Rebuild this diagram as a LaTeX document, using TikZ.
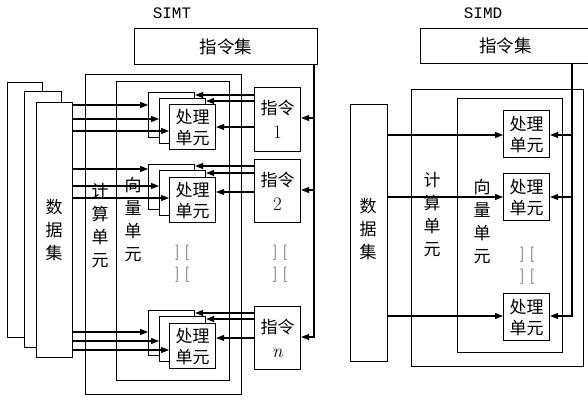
\documentclass[tikz,border=0pt]{standalone}
\usepackage{fontspec}
\newfontfamily\cjk{Noto Sans CJK SC}
\newfontfamily\lblfont{Liberation Mono}
\usetikzlibrary{arrows.meta}
\begin{document}
\begin{tikzpicture}[x=1pt,y=-1pt,
  ln/.style={line width=1.1pt},
  box/.style={draw, ln, inner sep=0pt, anchor=north west},
  wbox/.style={box, fill=white},
  petext/.style={font=\cjk\fontsize{17}{21}\selectfont, align=center},
  pe/.style={wbox, petext, minimum width=46pt, minimum height=45pt},
  insbox/.style={wbox, minimum width=46pt, minimum height=64pt, font=\fontsize{19}{24}\selectfont, align=center},
  vtext/.style={font=\cjk\fontsize{17}{23}\selectfont, align=center, inner sep=0pt},
  dots/.style={font=\fontsize{15}{15}\selectfont, inner sep=0pt},
  lbl/.style={font=\lblfont\fontsize{16}{16}\selectfont, inner sep=0pt},
  arr/.style={ln, -{Triangle[length=8pt,width=6pt]}}
]
\useasboundingbox (0,0) rectangle (588,400);

% ================= SIMT =================
\node[lbl] (simt) at (172,13) {SIMT};
\node[wbox, minimum width=183pt, minimum height=36pt, font=\cjk\fontsize{17.5}{20}\selectfont] (iset) at (134,28) {指令集};

% data set stack
\node[wbox, minimum width=35pt, minimum height=255pt] (dsa) at (7,82) {};
\node[wbox, minimum width=37pt, minimum height=256pt] (dsb) at (24,91) {};
\node[wbox, minimum width=36pt, minimum height=255pt] (dsf) at (36,102) {};
\node[vtext] (dstxt) at (54,230) {数\\据\\集};

% compute unit and vector unit
\node[box, minimum width=156pt, minimum height=320pt] (cu) at (85,74) {};
\node[box, minimum width=113pt, minimum height=299pt] (vu) at (116,81) {};
\node[vtext] (cutxt) at (100,226) {计\\算\\单\\元};
\node[vtext] (vutxt) at (133,219) {向\\量\\单\\元};

% PE stacks
\node[pe] (p1a) at (148,92) {};
\node[pe] (p1b) at (159,98) {};
\node[pe] (p1c) at (169,104) {处理\\单元};
\node[pe] (p2a) at (148,164) {};
\node[pe] (p2b) at (159,170) {};
\node[pe] (p2c) at (169,177) {处理\\单元};
\node[pe] (p3a) at (148,310) {};
\node[pe] (p3b) at (159,316) {};
\node[pe] (p3c) at (169,323) {处理\\单元};

% instruction boxes
\node[insbox] (ins1) at (254,87) {{\cjk\fontsize{17}{24}\selectfont 指令}\\1};
\node[insbox, minimum height=63pt] (ins2) at (254,159) {{\cjk\fontsize{17}{24}\selectfont 指令}\\2};
\node[insbox, minimum height=63pt] (insn) at (254,306) {{\cjk\fontsize{17}{24}\selectfont 指令}\\\textit{n}};

% ellipsis marks
\node[dots] (e1) at (182,253) {]\hspace{6pt}[};
\node[dots] (e2) at (182,275) {]\hspace{6pt}[};
\node[dots] (e3) at (280,253) {]\hspace{6pt}[};
\node[dots] (e4) at (280,275) {]\hspace{6pt}[};

% data arrows
\draw[arr] (dsf.east |- 0,105) -- (p1a.west |- 0,105);
\draw[arr] (dsf.east |- 0,119) -- (p1b.west |- 0,119);
\draw[arr] (dsf.east |- 0,131) -- (p1c.west |- 0,131);
\draw[arr] (dsf.east |- 0,169) -- (p2a.west |- 0,169);
\draw[arr] (dsf.east |- 0,186) -- (p2b.west |- 0,186);
\draw[arr] (dsf.east |- 0,198) -- (p2c.west |- 0,198);
\draw[arr] (dsf.east |- 0,332) -- (p3a.west |- 0,332);
\draw[arr] (dsf.east |- 0,341) -- (p3b.west |- 0,341);
\draw[arr] (dsf.east |- 0,350) -- (p3c.west |- 0,350);

% instruction arrows
\draw[arr] (ins1.west |- 0,95) -- (p1a.east |- 0,95);
\draw[arr] (ins1.west |- 0,101) -- (p1b.east |- 0,101);
\draw[arr] (ins1.west |- 0,127) -- (p1c.east |- 0,127);
\draw[arr] (ins2.west |- 0,166) -- (p2a.east |- 0,166);
\draw[arr] (ins2.west |- 0,173) -- (p2b.east |- 0,173);
\draw[arr] (ins2.west |- 0,192) -- (p2c.east |- 0,192);
\draw[arr] (insn.west |- 0,313) -- (p3a.east |- 0,313);
\draw[arr] (insn.west |- 0,319) -- (p3b.east |- 0,319);
\draw[arr] (insn.west |- 0,338) -- (p3c.east |- 0,338);

% instruction set bus
\draw[arr] (iset.south -| 314,0) |- (insn.east |- 0,337);
\draw[arr] (314,118) -- (ins1.east |- 0,118);
\draw[arr] (314,190) -- (ins2.east |- 0,190);

% ================= SIMD =================
\node[lbl] (simd) at (483,13) {SIMD};
\node[wbox, minimum width=170pt, minimum height=35pt, font=\cjk\fontsize{17.5}{20}\selectfont] (iset2) at (420,28) {指令集};

\node[box, minimum width=172pt, minimum height=277pt] (cu2) at (411,89) {};
\node[box, minimum width=105pt, minimum height=254pt] (vu2) at (457,98) {};
\node[wbox, minimum width=37pt, minimum height=257pt] (ds2) at (350,104) {};
\node[vtext] (ds2txt) at (368,229) {数\\据\\集};
\node[vtext] (cu2txt) at (432,215) {计\\算\\单\\元};
\node[vtext] (vu2txt) at (482,221) {向\\量\\单\\元};

\node[pe, minimum height=47pt] (q1) at (503,110) {处理\\单元};
\node[pe, minimum height=47pt] (q2) at (503,173) {处理\\单元};
\node[pe, minimum height=47pt] (q3) at (503,293) {处理\\单元};

\node[dots] (e5) at (527,255) {]\hspace{6pt}[};
\node[dots] (e6) at (527,277) {]\hspace{6pt}[};

\draw[arr] (ds2.east |- 0,135) -- (q1.west |- 0,135);
\draw[arr] (ds2.east |- 0,197) -- (q2.west |- 0,197);
\draw[arr] (ds2.east |- 0,316) -- (q3.west |- 0,316);

\draw[arr] (iset2.south -| 572,0) |- (q3.east |- 0,316);
\draw[arr] (572,135) -- (q1.east |- 0,135);
\draw[arr] (572,197) -- (q2.east |- 0,197);
\end{tikzpicture}
\end{document}
